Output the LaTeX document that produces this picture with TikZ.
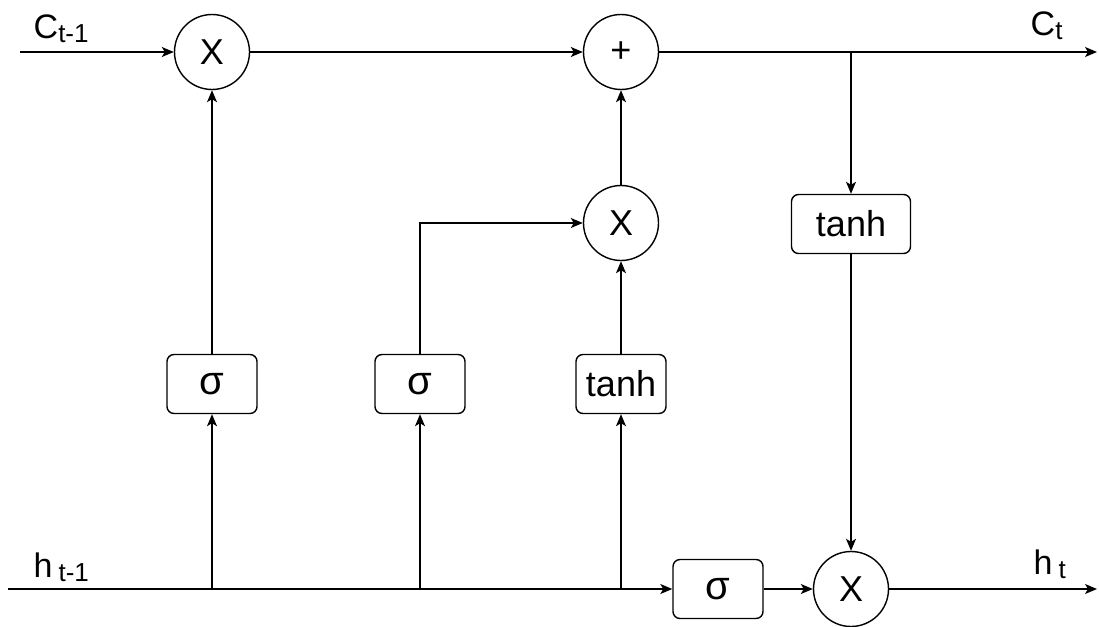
\documentclass[tikz,border=0pt]{standalone}
\usepackage{fontspec}
\setmainfont{Liberation Sans}
\usetikzlibrary{arrows.meta,positioning}
\newcommand{\sublbl}[2]{#1\raisebox{-4pt}{\fontsize{26}{26}\selectfont#2}}
\newcommand{\sigm}{{\fontsize{40}{40}\selectfont σ}}

\begin{document}
\begin{tikzpicture}[x=1pt, y=-1pt, line width=1.4pt,
  box/.style={rectangle, draw, rounded corners=7pt, minimum width=90pt,
    minimum height=59pt, inner sep=0pt, font=\fontsize{36}{40}\selectfont},
  op/.style={circle, draw, minimum size=75pt, inner sep=0pt,
    font=\fontsize{36}{40}\selectfont},
  lbl/.style={anchor=base west, inner sep=0pt, font=\fontsize{34}{38}\selectfont},
  arr/.style={-{Stealth[length=12pt, width=10pt, inset=3pt]}}
]
  \useasboundingbox (0,0) rectangle (1099,626);
  \node[op] (fx) at (212,52) {X};
  \node[op] (add) at (621,52) {+};
  \node[op] (ix) at (621,223) {X};
  \node[op] (ox) at (851,589) {X};
  \node[box] (fsig) at (212,384) {\sigm};
  \node[box] (isig) at (420,384) {\sigm};
  \node[box] (ctanh) at (621,384) {tanh};
  \node[box] (osig) at (718,589) {\sigm};
  \node[box, minimum width=119pt] (htanh) at (851,224) {tanh};
  \node[lbl] (cprev) at (33,38) {\sublbl{C}{t-1}};
  \node[lbl] (cnext) at (1030,36) {\sublbl{C}{t}};
  \node[lbl] (hprev) at (33,577) {\sublbl{h\hspace{6pt}}{t-1}};
  \node[lbl] (hnext) at (1033,574) {\sublbl{h\hspace{6pt}}{t}};
  \coordinate (cin) at (20,52);
  \coordinate (cout) at (1097,52);
  \coordinate (csplit) at (851,52);
  \coordinate (hin) at (8,589);
  \coordinate (hout) at (1097,589);
  \coordinate (fj) at (212,589);
  \coordinate (ij) at (420,589);
  \coordinate (cj) at (621,589);
  \draw[arr] (cin) -- (fx);
  \draw[arr] (fx) -- (add);
  \draw[arr] (add) -- (cout);
  \draw[arr] (csplit) -- (htanh);
  \draw[arr] (htanh) -- (ox);
  \draw[arr] (hin) -- (osig);
  \draw[arr] (fj) -- (fsig);
  \draw[arr] (ij) -- (isig);
  \draw[arr] (cj) -- (ctanh);
  \draw[arr] (fsig) -- (fx);
  \draw[arr] (isig) |- (ix);
  \draw[arr] (ctanh) -- (ix);
  \draw[arr] (ix) -- (add);
  \draw[arr] (osig) -- (ox);
  \draw[arr] (ox) -- (hout);
\end{tikzpicture}
\end{document}
